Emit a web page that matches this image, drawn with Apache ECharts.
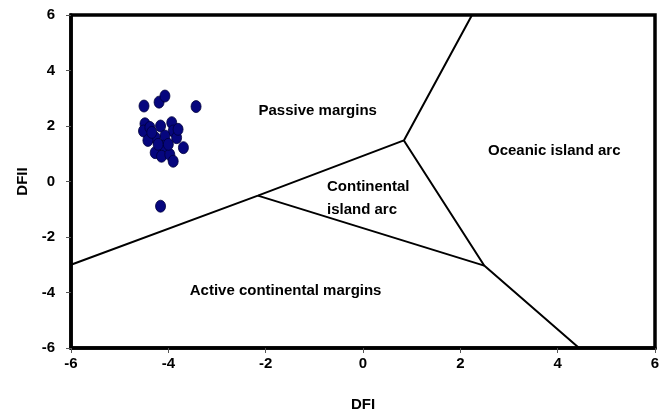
<!DOCTYPE html>
<html>
<head>
<meta charset="utf-8">
<script src="https://cdn.jsdelivr.net/npm/echarts@6/dist/echarts.min.js"></script>
<style>
  html, body { margin: 0; padding: 0; background: #fff; }
  #chart { width: 666px; height: 417px; }
</style>
</head>
<body>
<div id="chart"></div>
<script>
// Discriminant function scores of the samples
const dfi  = [-4.50, -4.19, -4.07, -3.43, -3.69, -4.16,
              -4.48, -4.51, -4.38, -4.16, -3.93, -3.90, -4.07, -4.27, -4.42,
              -4.10, -4.27, -4.14, -3.97, -3.90, -3.83, -4.00, -4.21, -4.34, -3.80];
const dfii = [ 2.72,  2.86,  3.08,  2.70,  1.22, -0.89,
               2.08,  1.82,  1.95,  2.00,  2.12,  1.82,  1.64,  1.58,  1.48,
               1.27,  1.04,  0.91,  0.97,  0.73,  1.58,  1.34,  1.34,  1.77,  1.88];

// Field boundaries (DFI, DFII vertices)
const boundaryA = [[-6, -3.0], [-2.16, -0.51], [0.84, 1.48], [2.24, 6]];
const boundaryB = [[0.84, 1.48], [2.49, -3.03], [4.44, -6]];
const boundaryC = [[-2.16, -0.51], [2.49, -3.03]];

// Tectonic setting fields
const fieldNames = ['Passive margins', 'Oceanic island arc', 'Continental\nisland arc', 'Active continental margins'];
const fieldDfi   = [-0.92, 3.94, -0.73, -1.58];
const fieldDfii  = [2.53, 1.08, -0.64, -3.97];
const fieldAlign = ['center', 'center', 'left', 'center'];

const axisTicks = [-6, -4, -2, 0, 2, 4, 6];

const font = "'Liberation Sans', Arial, Helvetica, sans-serif";

const lineSeries = (pts) => ({
  type: 'line',
  data: pts,
  symbol: 'none',
  lineStyle: { color: '#000', width: 2 },
  silent: true,
  z: 2
});

const chart = echarts.init(document.getElementById('chart'), null, { renderer: 'canvas' });
chart.setOption({
  animation: false,
  backgroundColor: '#fff',
  grid: {
    left: 71, right: 11, top: 15, bottom: 69,
    show: true, borderColor: '#000', borderWidth: 3.5, backgroundColor: 'transparent'
  },
  xAxis: {
    type: 'value', min: axisTicks[0], max: axisTicks[axisTicks.length - 1], interval: 2,
    name: 'DFI', nameLocation: 'middle', nameGap: 49,
    nameTextStyle: { fontFamily: font, fontWeight: 'bold', fontSize: 15, color: '#000' },
    axisLine: { show: true, onZero: false, lineStyle: { color: '#000', width: 3.5 } },
    axisTick: { show: true, inside: false, length: 5, lineStyle: { color: '#555', width: 1 } },
    axisLabel: { fontFamily: font, fontWeight: 'bold', fontSize: 15, color: '#000', margin: 8 },
    splitLine: { show: false }
  },
  yAxis: {
    type: 'value', min: axisTicks[0], max: axisTicks[axisTicks.length - 1], interval: 2,
    name: 'DFII', nameLocation: 'middle', nameGap: 39, nameRotate: 90,
    nameTextStyle: { fontFamily: font, fontWeight: 'bold', fontSize: 15, color: '#000' },
    axisLine: { show: true, onZero: false, lineStyle: { color: '#000', width: 3.5 } },
    axisTick: { show: true, inside: false, length: 5, lineStyle: { color: '#555', width: 1 } },
    axisLabel: { fontFamily: font, fontWeight: 'bold', fontSize: 15, color: '#000', margin: 16 },
    splitLine: { show: false }
  },
  series: [
    lineSeries(boundaryA),
    lineSeries(boundaryB),
    lineSeries(boundaryC),
    {
      type: 'scatter',
      data: fieldNames.map((n, i) => ({
        value: [fieldDfi[i], fieldDfii[i]], name: n,
        label: { align: fieldAlign[i] }
      })),
      symbolSize: 1,
      itemStyle: { color: '#fff', opacity: 1 },
      silent: true,
      label: {
        show: true, position: [0, 0], verticalAlign: 'middle',
        formatter: (p) => p.name, opacity: 1,
        fontFamily: font, fontWeight: 'bold', fontSize: 15, color: '#000', lineHeight: 23,
        textBorderWidth: 0, textBorderColor: 'transparent'
      },
      z: 3
    },
    {
      type: 'scatter',
      data: dfi.map((x, i) => [x, dfii[i]]),
      symbol: 'circle',
      symbolSize: [10, 12],
      itemStyle: { color: '#06067e', borderColor: '#00003c', borderWidth: 0.8, opacity: 1 },
      z: 4
    }
  ]
});
</script>
</body>
</html>
